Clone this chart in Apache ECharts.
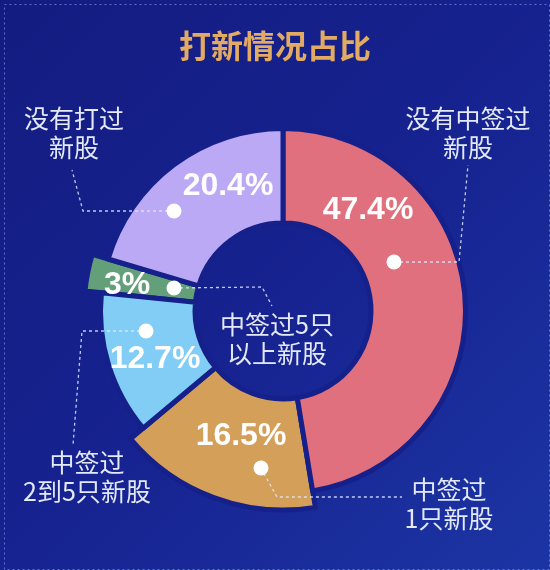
<!DOCTYPE html>
<html>
<head>
<meta charset="utf-8">
<script src="https://cdn.jsdelivr.net/npm/echarts@6/dist/echarts.min.js"></script>
<style>
html,body{margin:0;padding:0;background:#16208c;}
#main{width:550px;height:570px;}
</style>
</head>
<body>
<div id="main"></div>
<script>
// 打新情况占比 - 环形图
var categories = ['没有中签过\n新股', '中签过\n1只新股', '中签过\n2到5只新股', '中签过5只\n以上新股', '没有打过\n新股'];
var percents = [47.4, 16.5, 12.7, 3, 20.4];
var colors = ['#e0707d', '#d49f58', '#82cdf5', '#63a079', '#bba9f6'];
var bigSlice = [false, true, false, true, false]; // 外半径更大的两块

var bg = '#15208a';
var cx = 283, cy = 311;
// 标签位置(相对圆心的偏移)
var pctPos = [[85, -101], [-42, 125], [-128, 48], [-156, -26], [-55, -125]];
var dotPos = [[111, -49], [-22, 157], [-137, 20], [-109, -23], [-109, -100]];
var elbowPos = [[176, -49], [-6, 186], [-201, 20], [-21, -24], [-200, -100]];
var endPos = [[185, -146], [119, 186], [-210, 134], [-11, -5], [-211, -141]];
var namePos = [[185, -178], [166, 193], [-196, 166], [-6, 28], [-209, -178]];

function pt(p){ return [cx + p[0], cy + p[1]]; }

function makeData(visibleFn){
	return percents.map(function(v, i){
		var show = visibleFn(i);
		return {
			name: categories[i],
			value: v,
			itemStyle: show ? {color: colors[i], borderColor: bg, borderWidth: 5}
			                : {color: 'transparent', borderWidth: 0}
		};
	});
}

var myChart = echarts.init(document.getElementById('main'));
var option = {
	backgroundColor: {
		type: 'linear', x: 0, y: 0, x2: 1, y2: 1,
		colorStops: [{offset: 0, color: '#131c80'}, {offset: 0.5, color: '#16228f'}, {offset: 1, color: '#1c35a4'}]
	},
	title: {
		text: '打新情况占比',
		left: 'center',
		top: 30,
		padding: 0,
		textStyle: {color: '#e3aa63', fontSize: 32, fontWeight: 'bold', fontFamily: '"Noto Sans CJK SC"'}
	},
	graphic: [{
		type: 'rect', left: 2, top: 2, silent: true,
		shape: {width: 545, height: 565},
		style: {fill: 'none', stroke: 'rgba(120,150,235,0.7)', lineWidth: 1, lineDash: [2, 3]}
	}],
	series: [
		{ // 外半径大的两块
			type: 'pie', silent: true, center: [cx, cy], radius: [88, 199],
			startAngle: 90, clockwise: true, label: {show: false}, labelLine: {show: false},
			data: makeData(function(i){ return bigSlice[i]; })
		},
		{ // 普通环 + 百分比
			type: 'pie', silent: true, center: [cx, cy], radius: [88, 182.5],
			startAngle: 90, clockwise: true,
			label: {
				show: true, position: 'inside', formatter: '{c}%', color: '#fff',
				fontSize: 32, fontWeight: 'bold', fontFamily: '"Liberation Sans"'
			},
			labelLine: {show: false},
			labelLayout: function(params){
				var p = pt(pctPos[params.dataIndex]);
				return {x: p[0], y: p[1], align: 'center', verticalAlign: 'middle'};
			},
			data: makeData(function(i){ return !bigSlice[i]; })
		},
		{ // 名称 + 虚线
			type: 'pie', silent: true, z: 5, center: [cx, cy], radius: [88, 182.5],
			startAngle: 90, clockwise: true, avoidLabelOverlap: false,
			label: {
				show: true, position: 'outside', formatter: '{b}', color: '#e4e9f8',
				fontSize: 25, lineHeight: 29, fontFamily: '"Noto Sans CJK SC"', align: 'center'
			},
			labelLine: {show: true, lineStyle: {color: 'rgba(225,232,255,0.85)', width: 1.3, type: [3, 3]}},
			labelLayout: function(params){
				var i = params.dataIndex;
				var p = pt(namePos[i]);
				return {
					x: p[0], y: p[1], align: 'center', verticalAlign: 'middle',
					labelLinePoints: [pt(dotPos[i]), pt(elbowPos[i]), pt(endPos[i])]
				};
			},
			data: makeData(function(){ return false; })
		},
		{ // 白点
			type: 'pie', silent: true, z: 6, center: [cx, cy], radius: [88, 182.5],
			startAngle: 90, clockwise: true,
			label: {
				show: true, position: 'inside', formatter: '{d|}',
				rich: {d: {width: 15, height: 15, borderRadius: 8, backgroundColor: '#fff'}}
			},
			labelLine: {show: false},
			labelLayout: function(params){
				var p = pt(dotPos[params.dataIndex]);
				return {x: p[0], y: p[1], align: 'center', verticalAlign: 'middle'};
			},
			data: makeData(function(){ return false; })
		}
	]
};
myChart.setOption(option);
</script>
</body>
</html>
